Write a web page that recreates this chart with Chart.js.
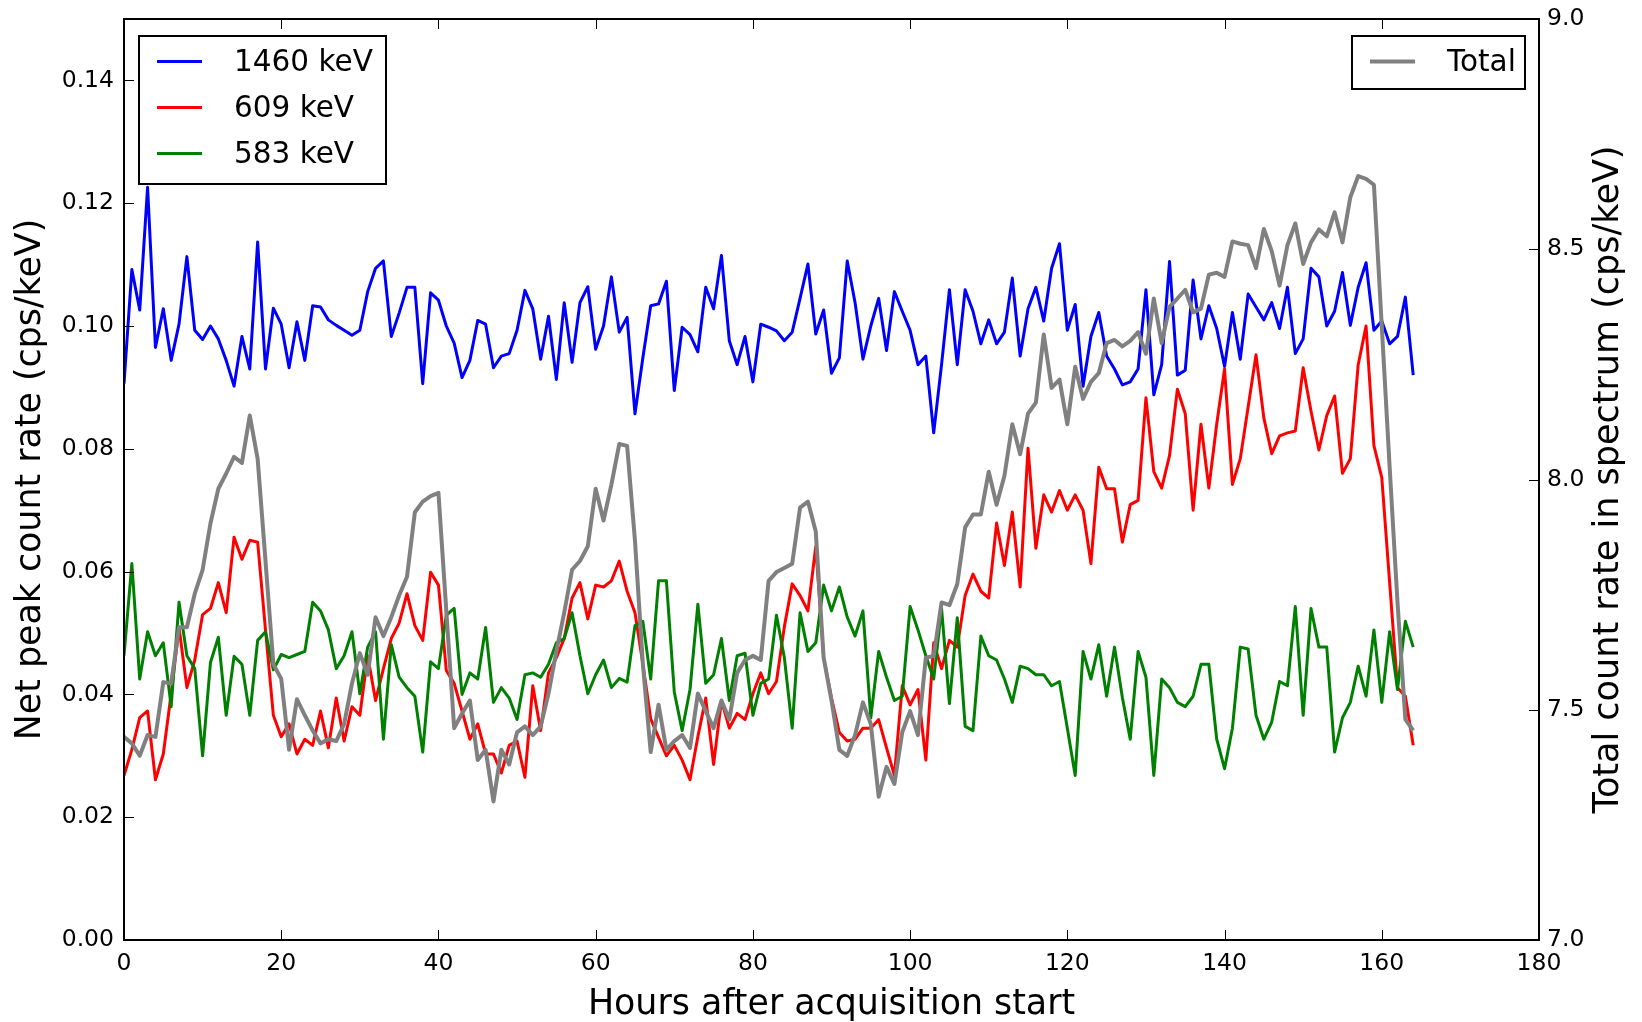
<!DOCTYPE html>
<html>
<head>
<meta charset="utf-8">
<title>Net peak and total count rate</title>
<script src="https://cdn.jsdelivr.net/npm/chart.js@4.4.1/dist/chart.umd.min.js"></script>
<style>
  body { margin: 0; background: #fff; }
  #wrap { width: 1642px; height: 1022px; }
</style>
</head>
<body>
<div id="wrap"><canvas id="lineChart" width="1642" height="1022"></canvas></div>
<script>
'use strict'

// hours after acquisition start (one spectrum per hour)
var hours = [
  0,1,2,3,4,5,6,7,8,9,10,11,12,13,14,15,16,17,18,19,
  20,21,22,23,24,25,26,27,28,29,30,31,32,33,34,35,36,37,38,39,
  40,41,42,43,44,45,46,47,48,49,50,51,52,53,54,55,56,57,58,59,
  60,61,62,63,64,65,66,67,68,69,70,71,72,73,74,75,76,77,78,79,
  80,81,82,83,84,85,86,87,88,89,90,91,92,93,94,95,96,97,98,99,
  100,101,102,103,104,105,106,107,108,109,110,111,112,113,114,115,116,117,118,119,
  120,121,122,123,124,125,126,127,128,129,130,131,132,133,134,135,136,137,138,139,
  140,141,142,143,144,145,146,147,148,149,150,151,152,153,154,155,156,157,158,159,
  160,161,162,163,164
];

// net peak count rate, cps/keV (left axis)
var peak1460 = [
  0.0906,0.1092,0.1026,0.1226,0.0965,0.1028,0.0944,0.1003,0.1113,0.0993,
  0.0978,0.1000,0.0979,0.0944,0.0902,0.0983,0.0930,0.1137,0.0930,0.1029,
  0.1003,0.0932,0.1007,0.0944,0.1033,0.1031,0.1010,0.1001,0.0993,0.0985,
  0.0993,0.1056,0.1094,0.1106,0.0983,0.1021,0.1063,0.1063,0.0906,0.1054,
  0.1042,0.1000,0.0972,0.0916,0.0944,0.1009,0.1003,0.0932,0.0951,0.0955,
  0.0993,0.1058,0.1028,0.0946,0.1016,0.0913,0.1038,0.0941,0.1038,0.1064,
  0.0962,0.1000,0.1080,0.0990,0.1014,0.0857,0.0948,0.1033,0.1036,0.1073,
  0.0895,0.0998,0.0986,0.0958,0.1063,0.1028,0.1115,0.0976,0.0937,0.0983,
  0.0909,0.1003,0.0998,0.0992,0.0976,0.0990,0.1045,0.1101,0.0987,0.1026,
  0.0923,0.0948,0.1106,0.1038,0.0946,0.1000,0.1045,0.0960,0.1056,0.1024,
  0.0993,0.0937,0.0951,0.0826,0.0937,0.1059,0.0937,0.1059,0.1024,0.0971,
  0.1010,0.0971,0.0990,0.1078,0.0951,0.1028,0.1063,0.1008,0.1094,0.1134,
  0.0993,0.1035,0.0902,0.0983,0.1022,0.0951,0.0930,0.0904,0.0909,0.0930,
  0.1059,0.0888,0.0937,0.1105,0.0920,0.0928,0.1075,0.0979,0.1033,0.0996,
  0.0934,0.1022,0.0946,0.1052,0.1031,0.1010,0.1038,0.0996,0.1063,0.0955,
  0.0979,0.1094,0.1080,0.1000,0.1024,0.1087,0.1001,0.1063,0.1103,0.0993,
  0.1008,0.0971,0.0983,0.1047,0.0920
];

var peak609 = [
  0.0268,0.0310,0.0362,0.0373,0.0261,0.0303,0.0401,0.0509,0.0411,0.0456,
  0.0530,0.0540,0.0582,0.0533,0.0656,0.0620,0.0651,0.0648,0.0505,0.0366,
  0.0331,0.0352,0.0303,0.0327,0.0317,0.0373,0.0313,0.0394,0.0324,0.0380,
  0.0366,0.0463,0.0390,0.0442,0.0491,0.0516,0.0564,0.0512,0.0488,0.0599,
  0.0578,0.0439,0.0418,0.0373,0.0327,0.0352,0.0303,0.0303,0.0272,0.0317,
  0.0324,0.0265,0.0414,0.0341,0.0435,0.0460,0.0491,0.0557,0.0582,0.0523,
  0.0578,0.0575,0.0585,0.0617,0.0568,0.0533,0.0450,0.0360,0.0330,0.0300,
  0.0317,0.0293,0.0261,0.0331,0.0394,0.0286,0.0390,0.0345,0.0369,0.0359,
  0.0401,0.0435,0.0401,0.0421,0.0510,0.0580,0.0561,0.0536,0.0641,0.0460,
  0.0394,0.0338,0.0324,0.0327,0.0345,0.0345,0.0359,0.0313,0.0268,0.0414,
  0.0383,0.0408,0.0293,0.0484,0.0442,0.0488,0.0477,0.0561,0.0596,0.0568,
  0.0557,0.0679,0.0610,0.0697,0.0575,0.0801,0.0638,0.0725,0.0697,0.0732,
  0.0700,0.0725,0.0700,0.0613,0.0770,0.0735,0.0735,0.0648,0.0709,0.0716,
  0.0883,0.0763,0.0736,0.0789,0.0897,0.0857,0.0700,0.0840,0.0736,0.0840,
  0.0930,0.0742,0.0784,0.0868,0.0953,0.0850,0.0792,0.0821,0.0826,0.0829,
  0.0932,0.0861,0.0798,0.0854,0.0886,0.0760,0.0784,0.0937,0.1000,0.0805,
  0.0753,0.0582,0.0411,0.0397,0.0317
];

var peak583 = [
  0.0463,0.0613,0.0425,0.0502,0.0463,0.0484,0.0380,0.0550,0.0463,0.0442,
  0.0300,0.0452,0.0493,0.0366,0.0462,0.0449,0.0366,0.0488,0.0502,0.0440,
  0.0465,0.0460,0.0465,0.0470,0.0550,0.0536,0.0505,0.0442,0.0463,0.0502,
  0.0401,0.0477,0.0502,0.0327,0.0481,0.0428,0.0411,0.0397,0.0306,0.0453,
  0.0442,0.0529,0.0540,0.0400,0.0435,0.0425,0.0509,0.0387,0.0411,0.0394,
  0.0359,0.0432,0.0435,0.0428,0.0449,0.0484,0.0491,0.0533,0.0463,0.0401,
  0.0432,0.0456,0.0411,0.0426,0.0420,0.0512,0.0519,0.0425,0.0585,0.0585,
  0.0404,0.0341,0.0408,0.0547,0.0418,0.0432,0.0491,0.0390,0.0463,0.0467,
  0.0366,0.0418,0.0425,0.0529,0.0460,0.0345,0.0533,0.0470,0.0484,0.0578,
  0.0536,0.0575,0.0526,0.0495,0.0536,0.0362,0.0470,0.0428,0.0390,0.0397,
  0.0543,0.0505,0.0463,0.0425,0.0540,0.0385,0.0525,0.0348,0.0341,0.0495,
  0.0463,0.0456,0.0425,0.0387,0.0446,0.0442,0.0432,0.0432,0.0414,0.0421,
  0.0345,0.0268,0.0470,0.0425,0.0481,0.0397,0.0477,0.0395,0.0327,0.0470,
  0.0428,0.0268,0.0425,0.0411,0.0387,0.0380,0.0397,0.0449,0.0449,0.0327,
  0.0279,0.0345,0.0477,0.0474,0.0366,0.0327,0.0355,0.0421,0.0414,0.0543,
  0.0366,0.0540,0.0477,0.0477,0.0306,0.0362,0.0387,0.0446,0.0397,0.0505,
  0.0387,0.0502,0.0408,0.0519,0.0477
];

// total count rate in spectrum, cps/keV (right axis)
var totalRate = [
  7.441,7.427,7.400,7.445,7.441,7.560,7.557,7.679,7.679,7.752,
  7.804,7.905,7.980,8.013,8.049,8.036,8.139,8.045,7.823,7.599,
  7.567,7.413,7.523,7.488,7.455,7.427,7.436,7.432,7.469,7.557,
  7.623,7.576,7.701,7.660,7.701,7.748,7.789,7.929,7.952,7.964,
  7.971,7.715,7.460,7.492,7.520,7.391,7.413,7.301,7.413,7.381,
  7.451,7.464,7.445,7.464,7.535,7.627,7.711,7.804,7.823,7.855,
  7.980,7.911,7.989,8.077,8.073,7.867,7.600,7.408,7.511,7.413,
  7.432,7.445,7.417,7.535,7.497,7.460,7.520,7.479,7.580,7.608,
  7.617,7.608,7.780,7.799,7.808,7.817,7.939,7.952,7.887,7.613,
  7.520,7.413,7.400,7.445,7.516,7.469,7.311,7.376,7.339,7.451,
  7.497,7.445,7.613,7.617,7.733,7.727,7.773,7.896,7.924,7.924,
  8.017,7.945,8.008,8.120,8.055,8.143,8.167,8.315,8.199,8.217,
  8.120,8.245,8.175,8.212,8.231,8.296,8.303,8.289,8.301,8.320,
  8.273,8.393,8.296,8.375,8.393,8.412,8.363,8.371,8.445,8.449,
  8.440,8.517,8.512,8.509,8.459,8.544,8.496,8.421,8.509,8.556,
  8.468,8.515,8.543,8.528,8.580,8.515,8.613,8.659,8.653,8.640,
  8.333,8.027,7.733,7.479,7.455
];

var xTicks = [0, 20, 40, 60, 80, 100, 120, 140, 160, 180];
var leftTicks = [0, 0.02, 0.04, 0.06, 0.08, 0.10, 0.12, 0.14];
var rightTicks = [7.0, 7.5, 8.0, 8.5, 9.0];

var FONT = 'DejaVu Sans';

var points = function(values) {
  return hours.map(function(h, i) { return { x: h, y: values[i] }; });
};

var setTicks = function(list) {
  return function(scale) {
    scale.ticks = list.map(function(v) { return { value: v }; });
  };
};

// fixed axis widths, and no extra room reserved for the end labels
var fitWidth = function(w) {
  return function(s) {
    s.width = w;
    s.paddingTop = 0;
    s.paddingBottom = 0;
  };
};

// matplotlib-like frame, inward ticks, the two legend boxes and the right title
var decorations = {
  id: 'decorations',
  afterDatasetsDraw: function(chart) {
    var ctx = chart.ctx;
    var a = chart.chartArea;
    var sx = chart.scales.x, sy = chart.scales.y, sy2 = chart.scales.y2;
    var tick = 10;

    ctx.save();
    ctx.strokeStyle = '#000';
    ctx.lineWidth = 1;
    ctx.beginPath();
    xTicks.forEach(function(v) {
      var px = Math.round(sx.getPixelForValue(v)) + 0.5;
      ctx.moveTo(px, a.bottom); ctx.lineTo(px, a.bottom - tick);
      ctx.moveTo(px, a.top); ctx.lineTo(px, a.top + tick);
    });
    leftTicks.forEach(function(v) {
      var py = Math.round(sy.getPixelForValue(v)) + 0.5;
      ctx.moveTo(a.left, py); ctx.lineTo(a.left + tick, py);
    });
    rightTicks.forEach(function(v) {
      var py = Math.round(sy2.getPixelForValue(v)) + 0.5;
      ctx.moveTo(a.right, py); ctx.lineTo(a.right - tick, py);
    });
    ctx.stroke();

    ctx.lineWidth = 2;
    ctx.strokeRect(a.left, a.top, a.right - a.left, a.bottom - a.top);

    // legend boxes
    var drawLegend = function(items, left, top, width, height, textX) {
      ctx.fillStyle = '#fff';
      ctx.fillRect(left, top, width, height);
      ctx.lineWidth = 2;
      ctx.strokeStyle = '#000';
      ctx.strokeRect(left, top, width, height);
      ctx.font = '29.5px "' + FONT + '"';
      ctx.textBaseline = 'middle';
      ctx.textAlign = 'left';
      items.forEach(function(ds, i) {
        var ly = top + 25.5 + i * 46;
        ctx.strokeStyle = ds.borderColor;
        ctx.lineWidth = ds.borderWidth;
        ctx.beginPath();
        ctx.moveTo(left + 18, ly);
        ctx.lineTo(left + 63, ly);
        ctx.stroke();
        ctx.fillStyle = '#000';
        ctx.fillText(ds.label, left + textX, ly + 2);
      });
    };
    var sets = chart.data.datasets;
    drawLegend([sets[1], sets[2], sets[3]], a.left + 15, a.top + 17, 247, 148, 95);
    drawLegend([sets[0]], a.right - 187, a.top + 17, 173, 53, 95);

    // right axis title, reading bottom to top like the left one
    ctx.translate(1609, (a.top + a.bottom) / 2);
    ctx.rotate(-Math.PI / 2);
    ctx.fillStyle = '#000';
    ctx.font = '35px "' + FONT + '"';
    ctx.textAlign = 'center';
    ctx.textBaseline = 'middle';
    ctx.fillText('Total count rate in spectrum (cps/keV)', 0, 0);
    ctx.restore();
  }
};

var chart = document.getElementById('lineChart');

let lineChart = new Chart(chart, {
  type: 'line',
  data: {
    datasets: [{
      label: 'Total',
      data: points(totalRate),
      borderColor: '#808080',
      borderWidth: 4,
      yAxisID: 'y2',
      order: 0
    }, {
      label: '1460 keV',
      data: points(peak1460),
      borderColor: '#0000ff',
      borderWidth: 3,
      yAxisID: 'y',
      order: 3
    }, {
      label: '609 keV',
      data: points(peak609),
      borderColor: '#ff0000',
      borderWidth: 3,
      yAxisID: 'y',
      order: 2
    }, {
      label: '583 keV',
      data: points(peak583),
      borderColor: '#008000',
      borderWidth: 3,
      yAxisID: 'y',
      order: 1
    }]
  },
  options: {
    responsive: false,
    animation: false,
    events: [],
    layout: { padding: { top: 19, left: 0, right: 0, bottom: 0 } },
    elements: {
      point: { radius: 0 },
      line: { tension: 0, fill: false, borderJoinStyle: 'round' }
    },
    plugins: {
      legend: { display: false },
      tooltip: { enabled: false }
    },
    scales: {
      x: {
        type: 'linear',
        min: 0,
        max: 180,
        afterBuildTicks: setTicks(xTicks),
        afterFit: function(s) { s.height = 82; },
        grid: { display: false, drawTicks: false },
        border: { display: false },
        ticks: {
          padding: 10,
          color: '#000',
          autoSkip: false,
          maxRotation: 0,
          font: { family: FONT, size: 23.5 }
        },
        title: {
          display: true,
          text: 'Hours after acquisition start',
          color: '#000',
          font: { family: FONT, size: 34.8 },
          padding: { top: 0, bottom: -4 }
        }
      },
      y: {
        position: 'left',
        min: 0,
        max: 0.15,
        afterBuildTicks: setTicks(leftTicks),
        afterFit: fitWidth(124),
        grid: { display: false, drawTicks: false },
        border: { display: false },
        ticks: {
          padding: 10,
          color: '#000',
          autoSkip: false,
          font: { family: FONT, size: 23.5 },
          callback: function(v) { return v.toFixed(2); }
        },
        title: {
          display: true,
          text: 'Net peak count rate (cps/keV)',
          color: '#000',
          font: { family: FONT, size: 34.8 },
          padding: { top: 10, bottom: 0 }
        }
      },
      y2: {
        position: 'right',
        min: 7,
        max: 9,
        afterBuildTicks: setTicks(rightTicks),
        afterFit: fitWidth(103),
        grid: { display: false, drawTicks: false },
        border: { display: false },
        ticks: {
          padding: 8,
          color: '#000',
          autoSkip: false,
          font: { family: FONT, size: 23.5 },
          callback: function(v) { return v.toFixed(1); }
        }
      }
    }
  },
  plugins: [decorations]
});
</script>
</body>
</html>
